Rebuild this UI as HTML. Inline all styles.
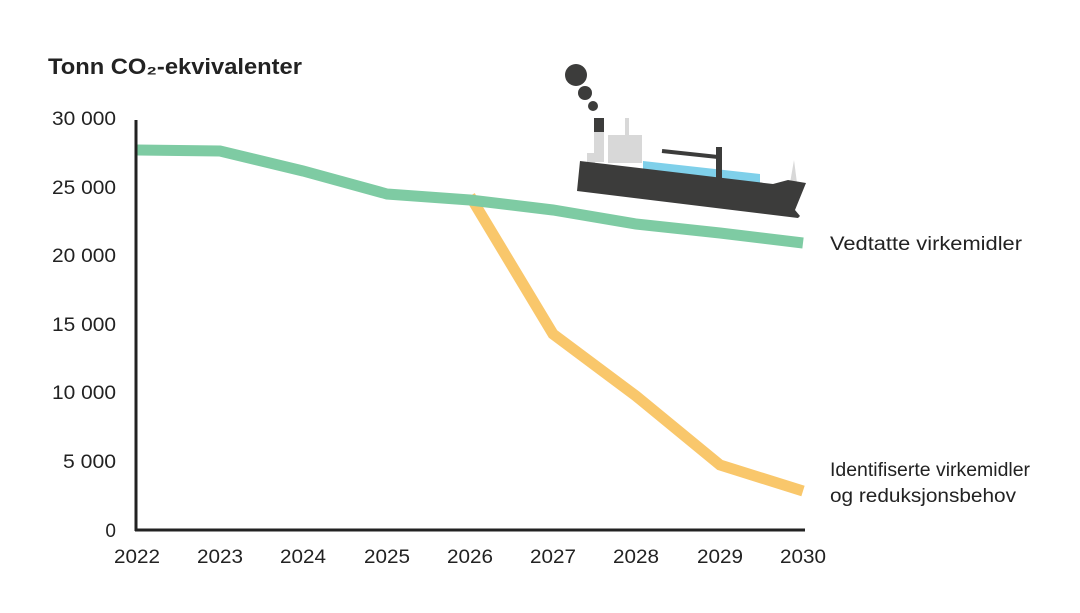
<!DOCTYPE html>
<html><head><meta charset="utf-8"><style>
body{margin:0;background:#fff}
text{font-family:"Liberation Sans",sans-serif;fill:#222}
</style></head><body>
<svg width="1080" height="608" viewBox="0 0 1080 608">
<text x="48" y="74" font-size="22" font-weight="bold" textLength="254" lengthAdjust="spacingAndGlyphs">Tonn CO₂-ekvivalenter</text>
<g font-size="19" text-anchor="end">
<text x="116" y="125" textLength="64" lengthAdjust="spacingAndGlyphs">30 000</text>
<text x="116" y="194" textLength="64" lengthAdjust="spacingAndGlyphs">25 000</text>
<text x="116" y="262" textLength="64" lengthAdjust="spacingAndGlyphs">20 000</text>
<text x="116" y="331" textLength="64" lengthAdjust="spacingAndGlyphs">15 000</text>
<text x="116" y="399" textLength="64" lengthAdjust="spacingAndGlyphs">10 000</text>
<text x="116" y="468" textLength="53" lengthAdjust="spacingAndGlyphs">5 000</text>
<text x="116" y="537">0</text>
</g>
<g font-size="19" text-anchor="middle">
<text x="137" y="563" textLength="46" lengthAdjust="spacingAndGlyphs">2022</text><text x="220" y="563" textLength="46" lengthAdjust="spacingAndGlyphs">2023</text><text x="303" y="563" textLength="46" lengthAdjust="spacingAndGlyphs">2024</text>
<text x="387" y="563" textLength="46" lengthAdjust="spacingAndGlyphs">2025</text><text x="470" y="563" textLength="46" lengthAdjust="spacingAndGlyphs">2026</text><text x="553" y="563" textLength="46" lengthAdjust="spacingAndGlyphs">2027</text>
<text x="636" y="563" textLength="46" lengthAdjust="spacingAndGlyphs">2028</text><text x="720" y="563" textLength="46" lengthAdjust="spacingAndGlyphs">2029</text><text x="803" y="563" textLength="46" lengthAdjust="spacingAndGlyphs">2030</text>
</g>
<polyline points="470,196 553,334 636,396 720,465 803,491" fill="none" stroke="#f9c76b" stroke-width="11"/>
<polyline points="137,150 220,151 303,171 387,194 470,200 553,210 636,224 720,233 803,243" fill="none" stroke="#7ecba3" stroke-width="11"/>
<line x1="136" y1="120" x2="136" y2="531" stroke="#222" stroke-width="3"/>
<line x1="135" y1="530" x2="805" y2="530" stroke="#222" stroke-width="3"/>
<text x="830" y="250" font-size="19" textLength="192" lengthAdjust="spacingAndGlyphs">Vedtatte virkemidler</text>
<text x="830" y="476" font-size="19" textLength="200" lengthAdjust="spacingAndGlyphs">Identifiserte virkemidler</text>
<text x="830" y="502" font-size="19" textLength="186" lengthAdjust="spacingAndGlyphs">og reduksjonsbehov</text>
<!-- ship -->
<circle cx="576" cy="75" r="11" fill="#3c3c3b"/>
<circle cx="585" cy="93" r="7" fill="#3c3c3b"/>
<circle cx="593" cy="106" r="5" fill="#3c3c3b"/>
<rect x="594" y="118" width="10" height="14" fill="#3c3c3b"/>
<rect x="594" y="132" width="10" height="30" fill="#d8d8d8"/>
<rect x="587" y="153" width="8" height="10" fill="#d8d8d8"/>
<rect x="608" y="135" width="34" height="28" fill="#d8d8d8"/>
<rect x="625" y="118" width="4" height="18" fill="#d8d8d8"/>
<polygon points="790,183 794,160 797,183" fill="#d8d8d8"/>
<polygon points="643,161 760,174 760,183 643,171" fill="#7fd0ea"/>
<polygon points="580,161 773,184 788,180 806,183 795,210 800,216 798,218 577,191" fill="#3c3c3b"/>
<line x1="662" y1="151" x2="718" y2="157" stroke="#3c3c3b" stroke-width="4"/>
<rect x="716" y="147" width="6" height="32" fill="#3c3c3b"/>
</svg>
</body></html>
